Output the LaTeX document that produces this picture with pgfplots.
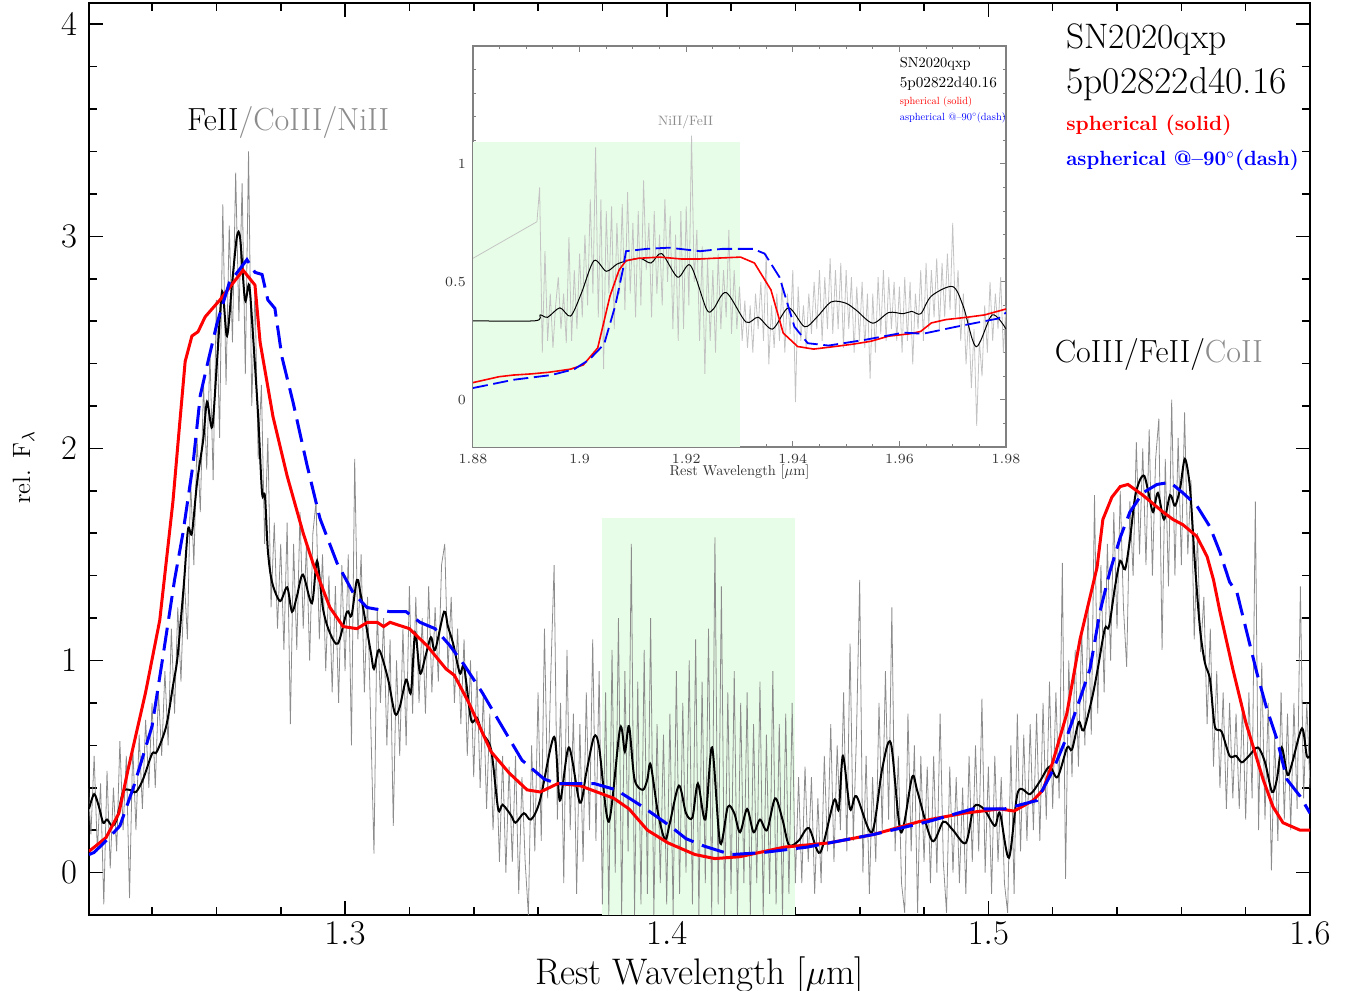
\documentclass[border=0pt]{standalone}
\usepackage{graphicx}
\usepackage{pgfplots}
\pgfplotsset{compat=1.18}
\definecolor{specgray}{RGB}{140,140,140}
\definecolor{insgray}{RGB}{195,195,195}
\definecolor{labgray}{RGB}{140,140,140}
\definecolor{shade}{RGB}{232,253,232}
\definecolor{fr}{RGB}{255,0,0}
\definecolor{fb}{RGB}{0,0,255}

\begin{document}
\begin{tikzpicture}
% ---------------- main spectrum ----------------
\begin{axis}[
  name=main, clip mode=individual,
  scale only axis, width=610.5pt, height=456pt,
  xmin=1.2204, xmax=1.6, ymin=-0.2, ymax=4.1,
  xtick={1.3,1.4,1.5,1.6},
  minor xtick={1.22,1.24,1.26,1.28,1.32,1.34,1.36,1.38,1.42,1.44,1.46,1.48,1.52,1.54,1.56,1.58},
  ytick={0,1,2,3,4},
  minor ytick={0.2,0.4,0.6,0.8,1.2,1.4,1.6,1.8,2.2,2.4,2.6,2.8,3.2,3.4,3.6,3.8},
  tick align=inside,
  major tick length=7pt, minor tick length=3.8pt,
  every tick/.style={black, line width=0.8pt},
  axis line style={line width=1pt},
  tick label style={font=\fontsize{17}{20}\selectfont},
  yticklabel style={xshift=-2.5pt},
  xlabel={Rest Wavelength [$\mu$m]},
  ylabel={rel. F$_\lambda$},
  every axis x label/.style={at={(axis description cs:0.5,-0.0757)}, anchor=base, font=\fontsize{18.5}{21}\selectfont},
  every axis y label/.style={at={(axis description cs:-0.0483,0.491)}, anchor=base, rotate=90, font=\fontsize{12.5}{14}\selectfont},
]
% shaded telluric region
\addplot[draw=none, fill=shade] coordinates {(1.38,-0.2)(1.38,1.67)(1.44,1.67)(1.44,-0.2)} -- cycle;

% observed spectrum (raw)
\addplot[specgray, line width=0.4pt] coordinates {
(1.220,0.45)(1.221,0.18)(1.222,0.55)(1.223,0.10)(1.224,0.42)(1.225,-0.15)(1.226,0.48)(1.227,0.02)(1.228,0.40)(1.229,0.10)
(1.230,0.62)(1.231,0.20)(1.232,0.55)(1.233,-0.12)(1.234,0.60)(1.235,0.20)(1.236,0.65)(1.237,0.30)(1.238,0.72)(1.239,0.40)
(1.240,0.80)(1.241,0.40)(1.242,0.85)(1.243,0.55)(1.244,0.95)(1.245,0.60)(1.246,1.15)(1.247,0.75)(1.248,1.25)(1.249,0.90)
(1.250,1.40)(1.251,1.10)(1.252,1.85)(1.253,1.45)(1.254,2.05)(1.255,1.70)(1.256,2.30)(1.257,1.90)(1.258,2.45)(1.259,1.85)
(1.260,2.70)(1.261,2.05)(1.262,3.15)(1.263,2.30)(1.264,3.05)(1.265,2.50)(1.266,3.30)(1.267,2.60)(1.268,3.25)(1.269,2.35)
(1.270,3.40)(1.271,2.20)(1.272,2.75)(1.273,1.95)(1.274,2.30)(1.275,1.55)(1.276,2.05)(1.277,1.25)(1.278,1.65)(1.279,1.15)
(1.280,1.55)(1.281,1.05)(1.282,1.65)(1.283,0.70)(1.284,1.55)(1.285,1.05)(1.286,1.70)(1.287,1.15)(1.288,1.55)(1.289,1.00)
(1.290,1.60)(1.291,1.75)(1.292,1.10)(1.293,1.50)(1.294,0.95)(1.295,1.40)(1.296,0.85)(1.297,1.35)(1.298,0.80)(1.299,1.45)
(1.300,0.95)(1.301,1.50)(1.302,0.60)(1.303,1.95)(1.304,1.10)(1.305,1.50)(1.306,0.85)(1.307,1.30)(1.308,0.70)(1.309,0.09)
(1.310,1.25)(1.311,0.80)(1.312,1.20)(1.313,0.60)(1.314,1.10)(1.315,0.22)(1.316,1.00)(1.317,0.55)(1.318,1.15)(1.319,0.60)
(1.320,1.35)(1.321,0.75)(1.322,1.30)(1.323,0.80)(1.324,1.20)(1.325,0.75)(1.326,1.35)(1.327,0.85)(1.328,1.25)(1.329,0.90)
(1.330,1.45)(1.331,1.55)(1.332,0.95)(1.333,1.30)(1.334,0.80)(1.335,1.15)(1.336,0.70)(1.337,1.10)(1.338,0.55)(1.339,1.00)
(1.340,0.45)(1.341,0.95)(1.342,0.40)(1.343,0.85)(1.344,0.30)(1.345,0.75)(1.346,0.20)(1.347,0.55)(1.348,0.05)(1.349,0.55)
(1.350,0.00)(1.351,0.50)(1.352,0.05)(1.353,0.55)(1.354,-0.10)(1.355,0.45)(1.356,0.05)(1.357,-0.20)(1.358,0.60)(1.359,0.10)
(1.360,0.85)(1.361,0.15)(1.362,1.15)(1.363,0.35)(1.364,0.95)(1.365,1.45)(1.366,0.25)(1.367,0.80)(1.368,-0.05)(1.369,1.05)
(1.370,0.20)(1.371,0.75)(1.372,-0.10)(1.373,0.70)(1.374,0.05)(1.375,0.85)(1.376,0.20)(1.377,1.10)(1.378,0.15)(1.379,0.95)
(1.380,-0.15)(1.381,0.85)(1.382,-0.20)(1.383,1.05)(1.384,0.00)(1.385,1.20)(1.386,-0.20)(1.387,0.95)(1.388,0.10)(1.389,1.55)
(1.390,-0.20)(1.391,0.90)(1.392,-0.15)(1.393,1.05)(1.394,-0.10)(1.395,1.20)(1.396,-0.20)(1.397,0.70)(1.398,-0.05)(1.399,0.65)
(1.400,-0.15)(1.401,0.75)(1.402,-0.20)(1.403,0.95)(1.404,-0.10)(1.405,0.80)(1.406,0.00)(1.407,1.00)(1.408,-0.15)(1.409,1.10)
(1.410,-0.20)(1.411,0.90)(1.412,-0.05)(1.413,1.15)(1.414,-0.20)(1.415,1.58)(1.416,-0.15)(1.417,1.35)(1.418,-0.20)(1.419,0.85)
(1.420,-0.10)(1.421,0.95)(1.422,-0.20)(1.423,0.80)(1.424,-0.05)(1.425,0.85)(1.426,-0.20)(1.427,0.70)(1.428,-0.05)(1.429,0.90)
(1.430,-0.20)(1.431,0.65)(1.432,-0.10)(1.433,0.95)(1.434,-0.15)(1.435,0.70)(1.436,-0.20)(1.437,0.75)(1.438,-0.10)(1.439,0.80)
(1.440,-0.05)(1.441,0.45)(1.442,-0.05)(1.443,0.50)(1.444,0.05)(1.445,0.45)(1.446,-0.10)(1.447,0.35)(1.448,-0.05)(1.449,0.55)
(1.450,0.10)(1.451,0.70)(1.452,0.05)(1.453,0.60)(1.454,0.20)(1.455,0.85)(1.456,0.10)(1.457,1.08)(1.458,0.15)(1.459,0.65)
(1.460,1.38)(1.461,0.00)(1.462,0.55)(1.463,-0.10)(1.464,0.45)(1.465,0.05)(1.466,0.80)(1.467,0.20)(1.468,0.95)(1.469,0.25)
(1.470,1.25)(1.471,0.10)(1.472,0.55)(1.473,-0.05)(1.474,-0.19)(1.475,0.75)(1.476,0.10)(1.477,0.60)(1.478,-0.19)(1.479,0.55)
(1.480,0.05)(1.481,0.50)(1.482,-0.05)(1.483,0.55)(1.484,0.00)(1.485,0.75)(1.486,0.05)(1.487,-0.19)(1.488,0.50)(1.489,0.00)
(1.490,0.45)(1.491,-0.05)(1.492,0.40)(1.493,-0.10)(1.494,0.55)(1.495,0.05)(1.496,0.60)(1.497,0.10)(1.498,0.82)(1.499,0.00)
(1.500,0.50)(1.501,-0.10)(1.502,0.55)(1.503,0.05)(1.504,0.45)(1.505,-0.05)(1.506,-0.19)(1.507,0.60)(1.508,-0.10)(1.509,0.75)
(1.510,0.10)(1.511,0.65)(1.512,0.15)(1.513,0.70)(1.514,0.20)(1.515,0.75)(1.516,0.15)(1.517,0.80)(1.518,0.25)(1.519,0.90)
(1.520,0.30)(1.521,0.85)(1.522,0.35)(1.523,1.46)(1.524,-0.03)(1.525,1.00)(1.526,0.45)(1.527,1.05)(1.528,0.50)(1.529,1.15)
(1.530,0.60)(1.531,1.25)(1.532,0.65)(1.533,1.78)(1.534,0.75)(1.535,1.45)(1.536,0.85)(1.537,1.55)(1.538,1.00)(1.539,1.70)
(1.540,1.15)(1.541,1.80)(1.542,1.25)(1.543,0.97)(1.544,1.75)(1.545,1.40)(1.546,2.03)(1.547,1.50)(1.548,2.00)(1.549,1.45)
(1.550,2.09)(1.551,1.40)(1.552,1.95)(1.553,2.14)(1.554,1.05)(1.555,1.95)(1.556,1.35)(1.557,2.23)(1.558,1.40)(1.559,2.05)
(1.560,1.45)(1.561,2.17)(1.562,1.50)(1.563,1.85)(1.564,1.10)(1.565,1.60)(1.566,1.04)(1.567,1.30)(1.568,0.70)(1.569,1.15)
(1.570,0.50)(1.571,0.95)(1.572,0.40)(1.573,0.85)(1.574,0.30)(1.575,0.80)(1.576,0.35)(1.577,0.75)(1.578,0.30)(1.579,0.80)
(1.580,0.25)(1.581,0.85)(1.582,0.35)(1.583,1.75)(1.584,0.20)(1.585,0.99)(1.586,0.25)(1.587,0.80)(1.588,0.01)(1.589,0.65)
(1.590,0.15)(1.591,0.85)(1.592,0.25)(1.593,0.75)(1.594,0.20)(1.595,0.80)(1.596,0.30)(1.597,1.35)(1.598,0.35)(1.599,0.80)
(1.600,0.40)};

% smoothed spectrum
\addplot[black, line width=1pt, smooth] coordinates {
(1.2204,0.30)(1.2220,0.37)(1.2235,0.31)(1.2248,0.235)(1.2260,0.25)(1.2276,0.22)(1.2290,0.25)(1.2310,0.38)(1.2330,0.39)
(1.2350,0.38)(1.2372,0.44)(1.2400,0.56)(1.2415,0.57)(1.2444,0.69)(1.2465,0.88)(1.2478,1.00)(1.2490,1.20)(1.2500,1.38)
(1.2512,1.62)(1.2524,1.60)(1.2540,1.84)(1.2559,2.04)(1.2571,2.22)(1.2587,2.10)(1.2602,2.41)(1.2618,2.74)(1.2633,2.53)
(1.2649,2.78)(1.2664,3.00)(1.2674,2.99)(1.2689,2.70)(1.2702,2.77)(1.2714,2.53)(1.2730,2.15)(1.2742,1.79)(1.2751,1.775)
(1.2760,1.52)(1.2773,1.37)(1.2798,1.28)(1.2820,1.345)(1.2835,1.23)(1.2850,1.30)(1.2869,1.405)(1.2897,1.27)(1.2913,1.47)
(1.2932,1.24)(1.2953,1.13)(1.2978,1.08)(1.3006,1.23)(1.3020,1.21)(1.3037,1.38)(1.3050,1.30)(1.3080,1.04)(1.3090,0.96)
(1.3106,1.05)(1.3134,0.91)(1.3155,0.75)(1.3170,0.78)(1.3190,0.91)(1.3205,0.85)(1.3218,1.13)(1.3233,0.94)(1.3250,1.02)
(1.3267,1.11)(1.3280,1.05)(1.3308,1.23)(1.3320,1.16)(1.3336,1.08)(1.3357,0.94)(1.3370,0.97)(1.3392,0.72)(1.3410,0.73)
(1.3426,0.66)(1.3454,0.58)(1.3476,0.30)(1.3490,0.32)(1.3516,0.27)(1.3530,0.235)(1.3556,0.28)(1.3578,0.25)(1.3606,0.34)
(1.3650,0.64)(1.3668,0.34)(1.3696,0.59)(1.3730,0.33)(1.3750,0.47)(1.3774,0.64)(1.3790,0.59)(1.3820,0.24)(1.3855,0.68)
(1.3870,0.57)(1.3883,0.69)(1.3900,0.44)(1.3926,0.39)(1.3940,0.44)(1.3950,0.51)(1.3973,0.28)(1.3995,0.155)(1.4010,0.235)
(1.4038,0.41)(1.4060,0.28)(1.4080,0.26)(1.4097,0.42)(1.4120,0.25)(1.4141,0.59)(1.4166,0.14)(1.4190,0.31)(1.4210,0.28)
(1.4228,0.19)(1.4250,0.30)(1.4270,0.19)(1.4290,0.25)(1.4312,0.20)(1.4337,0.35)(1.4360,0.25)(1.4380,0.13)(1.4410,0.15)
(1.4442,0.21)(1.4477,0.094)(1.4520,0.34)(1.4535,0.30)(1.4548,0.55)(1.4570,0.30)(1.4590,0.36)(1.4638,0.19)(1.4670,0.49)
(1.4697,0.61)(1.4728,0.19)(1.4763,0.45)(1.4780,0.38)(1.4825,0.15)(1.4860,0.24)(1.4890,0.20)(1.4930,0.14)(1.4955,0.31)
(1.4986,0.30)(1.5020,0.22)(1.5036,0.28)(1.5064,0.07)(1.5092,0.38)(1.5130,0.37)(1.5160,0.43)(1.5190,0.50)(1.5215,0.45)
(1.5245,0.59)(1.5260,0.58)(1.5281,0.71)(1.5296,0.67)(1.5322,0.82)(1.5340,0.96)(1.5362,1.15)(1.5375,1.16)(1.5394,1.35)
(1.5410,1.47)(1.5425,1.43)(1.5440,1.57)(1.5456,1.77)(1.5471,1.85)(1.5485,1.87)(1.5498,1.79)(1.5512,1.70)(1.5527,1.79)
(1.5546,1.665)(1.5565,1.78)(1.5580,1.73)(1.5596,1.81)(1.5611,1.95)(1.5627,1.81)(1.5642,1.46)(1.5658,1.15)(1.5673,0.99)
(1.5689,0.91)(1.5704,0.69)(1.5725,0.665)(1.5750,0.55)(1.5770,0.55)(1.5788,0.52)(1.5810,0.55)(1.5838,0.59)(1.5860,0.52)
(1.5882,0.38)(1.5897,0.44)(1.5912,0.59)(1.5930,0.46)(1.5945,0.52)(1.5975,0.68)(1.5990,0.55)(1.6000,0.55)};

% spherical model
\addplot[fr, line width=1.5pt] coordinates {
(1.2204,0.10)(1.2257,0.165)(1.2297,0.28)(1.2326,0.49)(1.2380,0.85)(1.2424,1.19)(1.2465,1.75)(1.2485,2.10)(1.2503,2.41)
(1.2524,2.53)(1.2543,2.55)(1.2565,2.62)(1.2611,2.70)(1.2652,2.78)(1.2683,2.84)(1.2720,2.77)(1.2736,2.50)(1.2776,2.15)
(1.2820,1.87)(1.2870,1.60)(1.2900,1.46)(1.2953,1.25)(1.2994,1.16)(1.3037,1.15)(1.3070,1.18)(1.3100,1.18)(1.3120,1.16)
(1.3140,1.18)(1.3180,1.16)(1.3200,1.15)(1.3255,1.07)(1.3314,0.96)(1.3340,0.93)(1.3385,0.80)(1.3454,0.57)(1.3510,0.47)
(1.3566,0.39)(1.3607,0.38)(1.3662,0.42)(1.3730,0.41)(1.3836,0.35)(1.3883,0.30)(1.3940,0.20)(1.4004,0.14)(1.4088,0.085)
(1.4150,0.066)(1.4228,0.075)(1.4365,0.12)(1.4505,0.14)(1.4644,0.18)(1.4784,0.24)(1.4853,0.26)(1.4924,0.28)(1.5036,0.30)
(1.5080,0.29)(1.5139,0.34)(1.5170,0.39)(1.5200,0.52)(1.5244,0.75)(1.5285,1.10)(1.5338,1.44)(1.5356,1.665)(1.5384,1.77)
(1.5410,1.82)(1.5434,1.83)(1.5480,1.78)(1.5543,1.70)(1.5574,1.665)(1.5605,1.64)(1.5648,1.585)(1.5680,1.49)(1.5700,1.38)
(1.5720,1.23)(1.5760,0.96)(1.5800,0.71)(1.5854,0.44)(1.5885,0.31)(1.5916,0.235)(1.5969,0.20)(1.6000,0.20)};

% aspherical model
\addplot[fb, line width=1.5pt, dash pattern=on 11.5pt off 4.5pt] coordinates {
(1.2204,0.085)(1.2220,0.095)(1.2260,0.155)(1.2300,0.22)(1.2344,0.41)(1.2400,0.69)(1.2434,1.02)(1.2470,1.38)(1.2496,1.60)
(1.2527,1.92)(1.2550,2.25)(1.2571,2.39)(1.2602,2.59)(1.2640,2.78)(1.2695,2.89)(1.2720,2.83)(1.2742,2.82)(1.2760,2.70)
(1.2782,2.66)(1.2804,2.43)(1.2838,2.22)(1.2882,1.92)(1.2922,1.67)(1.2975,1.46)(1.3025,1.32)(1.3068,1.25)(1.3140,1.23)
(1.3190,1.23)(1.3233,1.18)(1.3280,1.15)(1.3326,1.07)(1.3370,0.98)(1.3426,0.85)(1.3480,0.71)(1.3550,0.53)(1.3620,0.44)
(1.3660,0.42)(1.3774,0.42)(1.3843,0.39)(1.3926,0.31)(1.4010,0.22)(1.4060,0.16)(1.4116,0.125)(1.4200,0.085)(1.4296,0.094)
(1.4436,0.12)(1.4644,0.18)(1.4812,0.24)(1.4950,0.30)(1.5050,0.30)(1.5151,0.34)(1.5200,0.48)(1.5244,0.64)(1.5285,0.82)
(1.5316,0.96)(1.5347,1.23)(1.5378,1.42)(1.5410,1.58)(1.5440,1.70)(1.5480,1.79)(1.5524,1.83)(1.5565,1.84)(1.5605,1.79)
(1.5648,1.73)(1.5689,1.63)(1.5720,1.51)(1.5750,1.37)(1.5773,1.32)(1.5804,1.13)(1.5835,0.94)(1.5866,0.77)(1.5897,0.63)
(1.5928,0.44)(1.5969,0.36)(1.6000,0.28)};

\node[anchor=base, font=\fontsize{16}{19}\selectfont] at (axis cs:1.2823,3.497) {FeII\textcolor{labgray}{/CoIII/NiII}};
\node[anchor=base, font=\fontsize{16}{19}\selectfont] at (axis cs:1.553,2.404) {CoIII/FeII/\textcolor{labgray}{CoII}};
\node[anchor=base west, inner sep=0pt, font=\fontsize{17.7}{20}\selectfont] at (axis cs:1.5241,3.887) {SN2020qxp};
\node[anchor=base west, inner sep=0pt, font=\fontsize{18.8}{21}\selectfont] at (axis cs:1.5241,3.673) {5p02822d40.16};
\node[anchor=base west, inner sep=0pt, text=fr, font=\fontsize{10.3}{13}\selectfont\bfseries] at (axis cs:1.5241,3.497) {spherical (solid)};
\node[anchor=base west, inner sep=0pt, text=fb, font=\fontsize{10.3}{13}\selectfont\bfseries] at (axis cs:1.5241,3.332) {\scalebox{0.97}[1]{aspherical @\textendash90$^\circ$(dash)}};
\end{axis}

% ---------------- inset ----------------
\begin{axis}[
  at={(192pt,234pt)}, anchor=south west, clip mode=individual,
  scale only axis, width=266.5pt, height=200.5pt,
  xmin=1.88, xmax=1.98, ymin=-0.2, ymax=1.5,
  xtick={1.88,1.90,1.92,1.94,1.96,1.98},
  minor xtick={1.885,1.89,1.895,1.905,1.91,1.915,1.925,1.93,1.935,1.945,1.95,1.955,1.965,1.97,1.975},
  ytick={0,0.5,1},
  minor ytick={-0.1,0.1,0.2,0.3,0.4,0.6,0.7,0.8,0.9,1.1,1.2,1.3,1.4},
  tick align=inside,
  major tick length=3pt, minor tick length=1.6pt,
  every tick/.style={black!50, line width=0.5pt},
  axis line style={black!50, line width=0.7pt},
  tick label style={font=\fontsize{7.5}{9}\selectfont, text=black!80},
  xlabel={\scalebox{0.72}{\fontsize{10}{12}\selectfont Rest Wavelength [$\mu$m]}},
  every axis x label/.style={at={(axis description cs:0.5,-0.0716)}, anchor=base, text=black!80},
]
\addplot[draw=none, fill=shade] coordinates {(1.88,-0.2)(1.88,1.093)(1.93,1.093)(1.93,-0.2)} -- cycle;

\addplot[insgray, line width=0.4pt] coordinates {
(1.8800,0.600)(1.8920,0.755)(1.8925,0.90)(1.8930,0.20)(1.8935,0.63)(1.8940,0.25)(1.8945,0.45)(1.8950,0.22)(1.8955,0.40)
(1.8960,0.52)(1.8965,0.30)(1.8970,0.45)(1.8975,0.24)(1.8980,0.69)(1.8985,0.25)(1.8990,0.55)(1.8995,0.30)(1.9000,0.62)
(1.9005,0.35)(1.9010,0.70)(1.9015,0.40)(1.9020,0.85)(1.9025,0.45)(1.9030,1.07)(1.9035,0.35)(1.9040,0.85)(1.9045,0.13)
(1.9050,0.80)(1.9055,0.45)(1.9060,0.82)(1.9065,0.30)(1.9070,0.75)(1.9075,0.45)(1.9080,0.83)(1.9085,0.38)(1.9090,0.88)
(1.9095,0.45)(1.9100,0.75)(1.9105,0.35)(1.9110,0.80)(1.9115,0.40)(1.9120,0.93)(1.9125,0.55)(1.9130,0.75)(1.9135,0.35)
(1.9140,0.80)(1.9145,0.45)(1.9150,0.70)(1.9155,0.40)(1.9160,0.85)(1.9165,0.50)(1.9170,0.78)(1.9175,0.30)(1.9180,0.70)
(1.9185,0.25)(1.9190,0.80)(1.9195,0.30)(1.9200,0.82)(1.9205,0.40)(1.9210,1.12)(1.9215,0.50)(1.9220,0.72)(1.9225,0.25)
(1.9230,0.65)(1.9235,0.11)(1.9240,0.60)(1.9245,0.25)(1.9250,0.55)(1.9255,0.20)(1.9260,0.62)(1.9265,0.30)(1.9270,0.55)
(1.9275,0.35)(1.9280,0.72)(1.9285,0.28)(1.9290,0.55)(1.9295,0.30)(1.9300,0.48)(1.9305,0.25)(1.9310,0.42)(1.9315,0.22)
(1.9320,0.40)(1.9325,0.20)(1.9330,0.45)(1.9335,0.30)(1.9340,0.50)(1.9345,0.25)(1.9350,0.62)(1.9355,0.15)(1.9360,0.40)
(1.9365,0.22)(1.9370,0.45)(1.9375,0.25)(1.9380,0.50)(1.9385,0.20)(1.9390,0.45)(1.9395,0.28)(1.9400,0.55)(1.9405,-0.01)
(1.9410,0.48)(1.9415,0.25)(1.9420,0.40)(1.9425,0.22)(1.9430,0.45)(1.9435,0.28)(1.9440,0.50)(1.9445,0.30)(1.9450,0.55)
(1.9455,0.25)(1.9460,0.52)(1.9465,0.30)(1.9470,0.60)(1.9475,0.28)(1.9480,0.55)(1.9485,0.30)(1.9490,0.58)(1.9495,0.22)
(1.9500,0.55)(1.9505,0.30)(1.9510,0.52)(1.9515,0.20)(1.9520,0.48)(1.9525,0.25)(1.9530,0.50)(1.9535,0.22)(1.9540,0.45)
(1.9545,0.09)(1.9550,0.45)(1.9555,0.20)(1.9560,0.52)(1.9565,0.28)(1.9570,0.55)(1.9575,0.25)(1.9580,0.52)(1.9585,0.30)
(1.9590,0.50)(1.9595,0.25)(1.9600,0.48)(1.9605,0.20)(1.9610,0.52)(1.9615,0.25)(1.9620,0.50)(1.9625,0.15)(1.9630,0.45)
(1.9635,0.30)(1.9640,0.55)(1.9645,0.25)(1.9650,0.58)(1.9655,0.30)(1.9660,0.55)(1.9665,0.35)(1.9670,0.60)(1.9675,0.30)
(1.9680,0.58)(1.9685,0.35)(1.9690,0.62)(1.9695,0.38)(1.9700,0.75)(1.9705,0.35)(1.9710,0.55)(1.9715,0.25)(1.9720,0.45)
(1.9725,0.15)(1.9730,0.35)(1.9735,0.05)(1.9740,0.30)(1.9745,-0.11)(1.9750,0.25)(1.9755,0.10)(1.9760,0.40)(1.9765,0.20)
(1.9770,0.50)(1.9775,0.25)(1.9780,0.45)(1.9785,0.30)(1.9790,0.52)(1.9795,0.20)(1.9800,0.40)};

\addplot[black, line width=0.5pt, smooth] coordinates {
(1.8800,0.335)(1.8916,0.335)(1.8926,0.36)(1.8940,0.35)(1.8963,0.39)(1.8983,0.355)(1.9003,0.45)(1.9027,0.59)(1.9050,0.545)
(1.9070,0.575)(1.9090,0.59)(1.9114,0.60)(1.9134,0.58)(1.9154,0.62)(1.9184,0.52)(1.9208,0.57)(1.9238,0.385)(1.9251,0.385)
(1.9275,0.455)(1.9312,0.33)(1.9335,0.35)(1.9362,0.30)(1.9392,0.39)(1.9422,0.31)(1.9445,0.35)(1.9472,0.415)(1.9499,0.41)
(1.9519,0.38)(1.9550,0.325)(1.9580,0.37)(1.9607,0.365)(1.9623,0.375)(1.9640,0.365)(1.9660,0.44)(1.9700,0.48)(1.9720,0.395)
(1.9744,0.225)(1.9774,0.36)(1.9800,0.30)};

\addplot[fr, line width=0.8pt] coordinates {
(1.8800,0.073)(1.8849,0.098)(1.8876,0.105)(1.8910,0.11)(1.8943,0.117)(1.8983,0.13)(1.9007,0.148)(1.9034,0.22)(1.9057,0.44)
(1.9074,0.55)(1.9087,0.59)(1.9111,0.60)(1.9151,0.605)(1.9191,0.597)(1.9225,0.597)(1.9251,0.60)(1.9302,0.605)(1.9328,0.58)
(1.9359,0.466)(1.9382,0.283)(1.9409,0.226)(1.9439,0.215)(1.9479,0.226)(1.9513,0.236)(1.9546,0.248)(1.9580,0.27)(1.9620,0.28)
(1.9640,0.29)(1.9660,0.326)(1.9687,0.34)(1.9727,0.35)(1.9760,0.36)(1.9800,0.385)};

\addplot[fb, line width=0.9pt, dash pattern=on 7.5pt off 2.8pt] coordinates {
(1.8800,0.05)(1.8876,0.085)(1.8947,0.105)(1.8990,0.13)(1.9018,0.17)(1.9046,0.236)(1.9067,0.40)(1.9081,0.55)(1.9087,0.63)
(1.9126,0.64)(1.9168,0.645)(1.9226,0.63)(1.9268,0.64)(1.9325,0.64)(1.9347,0.62)(1.9375,0.52)(1.9403,0.31)(1.9428,0.24)
(1.9467,0.23)(1.9537,0.255)(1.9608,0.285)(1.9644,0.28)(1.9707,0.31)(1.9786,0.345)(1.9800,0.37)};

\node[anchor=base, inner sep=0pt, text=labgray] at (axis cs:1.9199,1.162) {\scalebox{0.68}{\fontsize{10}{12}\selectfont NiII/FeII}};
\node[anchor=base west, inner sep=0pt] at (axis cs:1.96,1.408) {\scalebox{0.72}{\fontsize{10}{12}\selectfont SN2020qxp}};
\node[anchor=base west, inner sep=0pt] at (axis cs:1.96,1.323) {\scalebox{0.76}{\fontsize{10}{12}\selectfont 5p02822d40.16}};
\node[anchor=base west, inner sep=0pt, text=fr] at (axis cs:1.96,1.254) {\scalebox{0.52}{\fontsize{10}{12}\selectfont spherical (solid)}};
\node[anchor=base west, inner sep=0pt, text=fb] at (axis cs:1.96,1.186) {\scalebox{0.52}{\fontsize{10}{12}\selectfont aspherical @\textendash90$^\circ$(dash)}};
\end{axis}

\pgfresetboundingbox
\path (-44.5pt,-37.5pt) rectangle (631.5pt,457.5pt);
\end{tikzpicture}
\end{document}
